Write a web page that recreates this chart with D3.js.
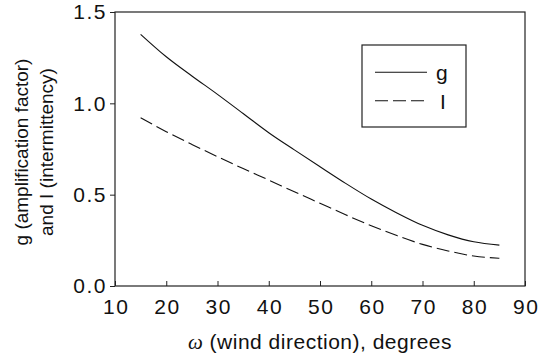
<!DOCTYPE html>
<html>
<head>
<meta charset="utf-8">
<script src="https://cdn.jsdelivr.net/npm/d3@7"></script>
<style>
  body { margin: 0; background: #fff; }
  svg text { font-family: "Liberation Sans", Arial, sans-serif; fill: #111; }
</style>
</head>
<body>
<svg id="chart" width="538" height="363"></svg>
<script>
'use strict';

// wind direction (degrees)
const omega  = [15, 20, 25, 30, 35, 40, 45, 50, 55, 60, 65, 70, 75, 80, 85]
// g, amplification factor
const gVals  = [1.378, 1.255, 1.15, 1.049, 0.944, 0.839, 0.745, 0.653, 0.562, 0.476, 0.40, 0.332, 0.28, 0.242, 0.224]
// I, intermittency
const iVals  = [0.921, 0.845, 0.775, 0.708, 0.643, 0.58, 0.516, 0.453, 0.39, 0.330, 0.276, 0.228, 0.192, 0.164, 0.152]

const xTicks = [10, 20, 30, 40, 50, 60, 70, 80, 90]
const yTicks = [0.0, 0.5, 1.0, 1.5]
const legendItems = [
  {name: 'g', dash: null},
  {name: 'I', dash: '13,5'}
]

const svg = d3.select('#chart')
const m = {left: 115, right: 525, top: 12, bottom: 286}
const tickFont = '21px'
const tickSpacing = 1.5

const x = d3.scaleLinear().domain([10, 90]).range([m.left, m.right])
const y = d3.scaleLinear().domain([0, 1.5]).range([m.bottom, m.top])

// frame
svg.append('rect')
  .attr('x', m.left).attr('y', m.top)
  .attr('width', m.right - m.left).attr('height', m.bottom - m.top)
  .attr('fill', 'none').attr('stroke', '#222').attr('stroke-width', 1.2)

// x axis, ticks pointing inward
const xAxis = svg.append('g')
  .attr('transform', `translate(0,${m.bottom})`)
  .call(d3.axisBottom(x).tickValues(xTicks).tickFormat(d3.format('d'))
    .tickSizeInner(-5).tickSizeOuter(0).tickPadding(13))
xAxis.select('.domain').remove()
xAxis.selectAll('line').attr('stroke', '#222')
xAxis.selectAll('text')
  .style('font-family', '"Liberation Sans", Arial, sans-serif')
  .style('font-size', tickFont).style('letter-spacing', tickSpacing + 'px')
  .attr('dx', tickSpacing / 2).attr('fill', '#111')

// y axis, ticks pointing outward
const yAxis = svg.append('g')
  .attr('transform', `translate(${m.left},0)`)
  .call(d3.axisLeft(y).tickValues(yTicks).tickFormat(d3.format('.1f'))
    .tickSizeInner(5).tickSizeOuter(0).tickPadding(3))
yAxis.select('.domain').remove()
yAxis.selectAll('line').attr('stroke', '#222')
yAxis.selectAll('text')
  .style('font-family', '"Liberation Sans", Arial, sans-serif')
  .style('font-size', tickFont).style('letter-spacing', tickSpacing + 'px')
  .attr('fill', '#111')

// curves
const line = (vals) => d3.line()
  .x((d, i) => x(omega[i]))
  .y((d) => y(d))
  .curve(d3.curveMonotoneX)(vals)

svg.append('path').attr('d', line(gVals))
  .attr('fill', 'none').attr('stroke', '#111').attr('stroke-width', 1.1)
svg.append('path').attr('d', line(iVals))
  .attr('fill', 'none').attr('stroke', '#111').attr('stroke-width', 1.1)
  .attr('stroke-dasharray', legendItems[1].dash)

// legend
const lg = svg.append('g')
lg.append('rect')
  .attr('x', 362).attr('y', 45).attr('width', 104).attr('height', 82)
  .attr('fill', '#fff').attr('stroke', '#222').attr('stroke-width', 1.2)
legendItems.forEach((item, i) => {
  const ly = 72.3 + i * 28.4
  lg.append('line')
    .attr('x1', 375).attr('x2', 427).attr('y1', ly).attr('y2', ly)
    .attr('stroke', '#111').attr('stroke-width', 1.1)
    .attr('stroke-dasharray', item.dash)
  lg.append('text')
    .attr('x', item.name === 'g' ? 436 : 440).attr('y', ly + 8)
    .style('font-size', '21px')
    .text(item.name)
})

// axis titles
const xt = svg.append('text')
  .attr('x', (m.left + m.right) / 2).attr('y', 349)
  .attr('text-anchor', 'middle')
  .style('font-size', '21px').style('letter-spacing', '0.5px')
xt.append('tspan')
  .style('font-family', '"Liberation Serif", "Times New Roman", serif')
  .style('font-style', 'italic')
  .text('ω')
xt.append('tspan').text(' (wind direction), degrees')

const yt = svg.append('text')
  .attr('transform', `translate(28,${(m.top + m.bottom) / 2 + 3}) rotate(-90)`)
  .attr('text-anchor', 'middle')
  .style('font-size', '19px')
yt.append('tspan').attr('x', 0).attr('dy', 0).text('g (amplification factor)')
yt.append('tspan').attr('x', 0).attr('dy', 24.5).text('and I (intermittency)')
</script>
</body>
</html>
